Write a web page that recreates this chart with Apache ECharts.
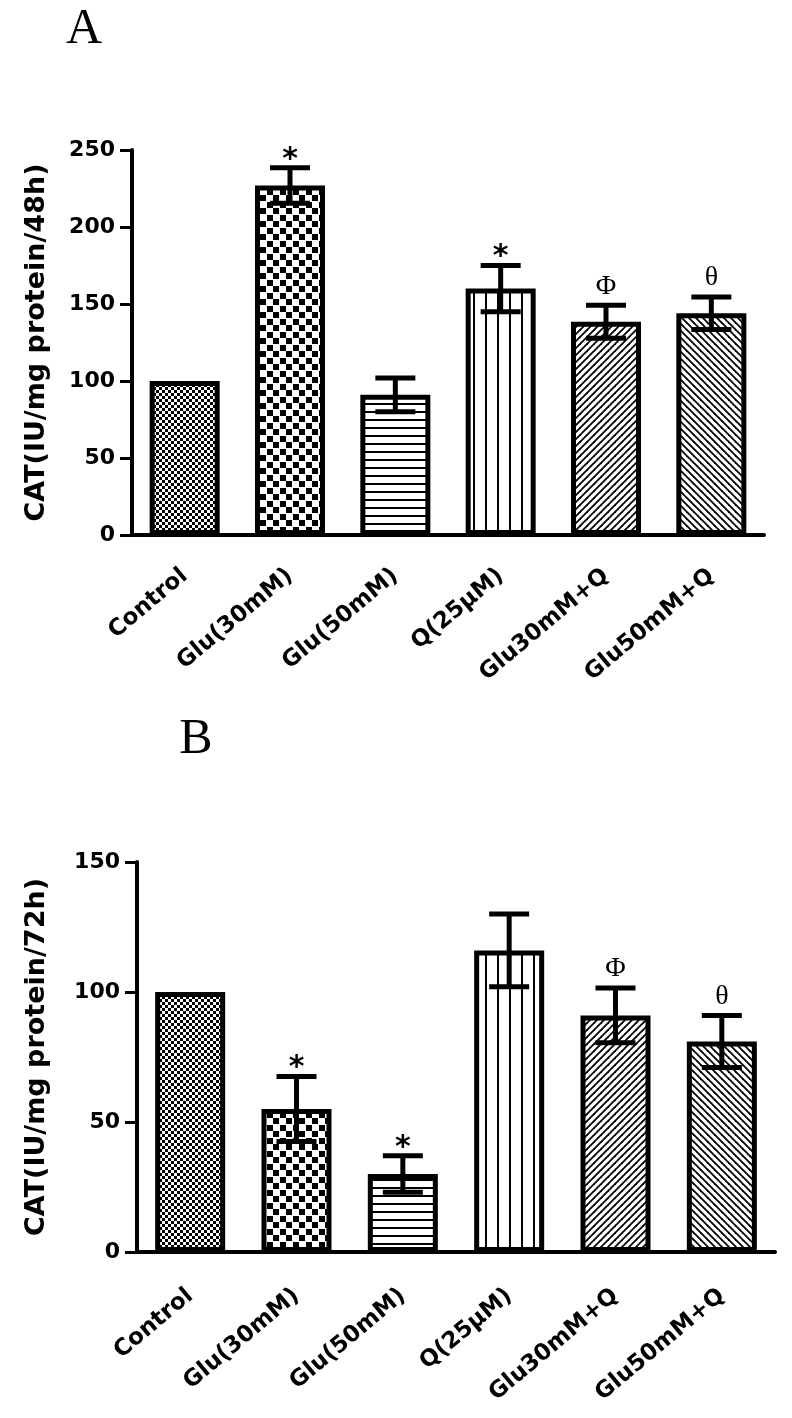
<!DOCTYPE html>
<html><head><meta charset="utf-8">
<script src="https://cdn.jsdelivr.net/npm/echarts@6/dist/echarts.min.js"></script>
<style>
html,body{margin:0;padding:0;background:#fff;overflow:hidden}
#chart{width:792px;height:1418px}
</style></head>
<body><div id="chart"></div>
<script>
// ---- data ----
const categories = ['Control', 'Glu(30mM)', 'Glu(50mM)', 'Q(25μM)', 'Glu30mM+Q', 'Glu50mM+Q'];
const meansA = [100, 227, 91, 160, 138.5, 144];
const errorsA = [0, 11.5, 11, 15, 10.7, 10.5];
const marksA = ['', '*', '', '*', 'Φ', 'θ'];
const meansB = [100, 55, 30, 116, 91, 81];
const errorsB = [0, 12.5, 7, 14, 10.5, 10];
const marksB = ['', '*', '*', '', 'Φ', 'θ'];
const ticksA = [0, 50, 100, 150, 200, 250];
const ticksB = [0, 50, 100, 150];
const titleA = 'CAT(IU/mg protein/48h)';
const titleB = 'CAT(IU/mg protein/72h)';
const patternKinds = ['fineChecker', 'bigChecker', 'hLines', 'vLines', 'diagUp', 'diagDown'];

// ---- patterns ----
function makePattern(kind) {
  const c = document.createElement('canvas');
  let w = 6, h = 6;
  if (kind === 'bigChecker') { w = 13; h = 13; }
  if (kind === 'hLines') { w = 8; h = 8; }
  if (kind === 'vLines') { w = 12; h = 8; }
  if (kind === 'diagUp' || kind === 'diagDown') { w = 7; h = 7; }
  c.width = w; c.height = h;
  const g = c.getContext('2d');
  g.fillStyle = '#fff'; g.fillRect(0, 0, w, h);
  g.fillStyle = '#000'; g.strokeStyle = '#000';
  if (kind === 'fineChecker') {
    g.fillRect(0, 0, 3, 3); g.fillRect(3, 3, 3, 3);
  } else if (kind === 'bigChecker') {
    g.fillRect(0, 0, 6, 6); g.fillRect(7, 7, 6, 6);
  } else if (kind === 'hLines') {
    g.fillRect(0, 3, w, 2);
  } else if (kind === 'vLines') {
    g.fillRect(5, 0, 2, h);
  } else {
    g.lineWidth = 1.8;
    const segs = kind === 'diagUp'
      ? [[-1, h + 1, w + 1, -1], [-1, 1, 1, -1], [w - 1, h + 1, w + 1, h - 1]]
      : [[-1, -1, w + 1, h + 1], [-1, h - 1, 1, h + 1], [w - 1, -1, w + 1, 1]];
    segs.forEach(s => { g.beginPath(); g.moveTo(s[0], s[1]); g.lineTo(s[2], s[3]); g.stroke(); });
  }
  return { image: c, repeat: 'repeat' };
}
const patterns = patternKinds.map(makePattern);

function barData(means) {
  return means.map((v, i) => ({
    value: v,
    itemStyle: { color: patterns[i], borderColor: '#000', borderWidth: 5 }
  }));
}

const FONT = '"DejaVu Sans", Verdana, sans-serif';
function errRender(marks) {
  return function (params, api) {
    const i = api.value(0), m = api.value(1), e = api.value(2);
    const top = api.coord([i, m + e]);
    const bot = api.coord([i, m - e]);
    const half = 20;
    const st = { stroke: '#000', lineWidth: 5 };
    const children = [];
    if (e > 0) {
      children.push({ type: 'line', shape: { x1: top[0], y1: top[1], x2: bot[0], y2: bot[1] }, style: st });
      children.push({ type: 'line', shape: { x1: top[0] - half, y1: top[1], x2: top[0] + half, y2: top[1] }, style: st });
      children.push({ type: 'line', shape: { x1: bot[0] - half, y1: bot[1], x2: bot[0] + half, y2: bot[1] }, style: st });
    }
    const mk = marks[i];
    if (mk) {
      const isStar = mk === '*';
      children.push({
        type: 'text',
        style: {
          text: mk, x: top[0], y: top[1] - (isStar ? 8 : 19),
          align: 'center', verticalAlign: 'middle',
          font: isStar ? 'bold 30px ' + FONT : '28px "Liberation Serif", "Times New Roman", serif',
          fill: '#000'
        }
      });
    }
    return { type: 'group', children };
  };
}

function xAxis(gi, margin) {
  return {
    gridIndex: gi, type: 'category', data: categories,
    axisLine: { lineStyle: { color: '#000', width: 4 } },
    axisTick: { alignWithLabel: true, length: 12, lineStyle: { color: '#000', width: 3 } },
    axisLabel: {
      interval: 0, rotate: 40, margin: margin, color: '#000',
      fontSize: 23, fontWeight: 'bold', fontFamily: FONT
    }
  };
}
function yAxis(gi, ticks, name, gap) {
  return {
    gridIndex: gi, type: 'value',
    min: ticks[0], max: ticks[ticks.length - 1], interval: ticks[1] - ticks[0],
    axisLine: { show: true, lineStyle: { color: '#000', width: 4 } },
    axisTick: { show: true, length: 12, lineStyle: { color: '#000', width: 3 } },
    axisLabel: { color: '#000', fontSize: 22, fontWeight: 'bold', margin: 17, fontFamily: FONT },
    splitLine: { show: false },
    name: name, nameLocation: 'middle', nameRotate: 90, nameGap: gap,
    nameTextStyle: { color: '#000', fontSize: 27, fontWeight: 'bold', fontFamily: FONT }
  };
}

const chart = echarts.init(document.getElementById('chart'), null, { renderer: 'canvas' });
chart.setOption({
  backgroundColor: '#fff',
  animation: false,
  grid: [
    { left: 132, top: 150, width: 632, height: 385, containLabel: false, outerBoundsMode: 'none' },
    { left: 137, top: 862, width: 638, height: 390, containLabel: false, outerBoundsMode: 'none' }
  ],
  xAxis: [xAxis(0, 38), xAxis(1, 41)],
  yAxis: [yAxis(0, ticksA, titleA, 82), yAxis(1, ticksB, titleB, 87)],
  graphic: [
    { type: 'text', x: 84, y: 30, style: { text: 'A', align: 'center', verticalAlign: 'middle', font: '50px "Liberation Serif", "Times New Roman", serif', fill: '#000' } },
    { type: 'text', x: 196, y: 740, style: { text: 'B', align: 'center', verticalAlign: 'middle', font: '50px "Liberation Serif", "Times New Roman", serif', fill: '#000' } }
  ],
  series: [
    { type: 'bar', xAxisIndex: 0, yAxisIndex: 0, barWidth: 70, data: barData(meansA) },
    { type: 'custom', xAxisIndex: 0, yAxisIndex: 0, z: 5, renderItem: errRender(marksA),
      encode: { x: 0, y: 1 }, data: meansA.map((v, i) => [i, v, errorsA[i]]) },
    { type: 'bar', xAxisIndex: 1, yAxisIndex: 1, barWidth: 70, data: barData(meansB) },
    { type: 'custom', xAxisIndex: 1, yAxisIndex: 1, z: 5, renderItem: errRender(marksB),
      encode: { x: 0, y: 1 }, data: meansB.map((v, i) => [i, v, errorsB[i]]) }
  ]
});
</script>
</body></html>
